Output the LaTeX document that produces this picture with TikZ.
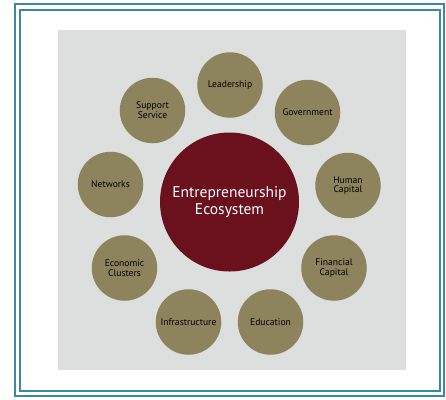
\documentclass[tikz,border=0pt]{standalone}
\usepackage{fontspec}
\setmainfont{PT Sans}
\definecolor{frameblue}{RGB}{58,136,162}
\definecolor{panelgray}{RGB}{220,223,222}
\definecolor{olive}{RGB}{141,132,94}
\definecolor{maroon}{RGB}{106,17,29}
\begin{document}
\begin{tikzpicture}[x=1pt,y=-1pt,
  factor/.style={circle,fill=olive,minimum size=65.5pt,inner sep=0pt,
    align=center,font=\fontsize{9.6}{9.8}\selectfont,text=black},
  hub/.style={circle,fill=maroon,minimum size=139pt,inner sep=0pt,
    align=center,font=\fontsize{15.5}{17}\selectfont,text=white},
  frameline/.style={draw=frameblue,line width=2pt}]
\useasboundingbox (0,0) rectangle (446,399);
% double frame
\draw[frameline] (14.5,4) rectangle (444,396);
\draw[frameline] (20,9.5) rectangle (439.5,391);
% panel
\fill[panelgray] (58,30) rectangle (406,370);
% hub
\node[hub] (eco) at (229.5,202) {Entrepreneurship\\Ecosystem};
% factors
\node[factor] (lead) at (230,85) {Leadership};
\node[factor] (gov) at (307.5,112.5) {Government};
\node[factor] (hum) at (348,185.5) {Human\\Capital};
\node[factor] (fin) at (334,268) {Financial\\Capital};
\node[factor] (edu) at (270.5,322) {Education};
\node[factor] (inf) at (188.5,322) {Infrastructure};
\node[factor] (clu) at (124.5,268) {Economic\\Clusters};
\node[factor] (net) at (110.5,184.5) {Networks};
\node[factor] (sup) at (152.5,110.5) {Support\\Service};
\end{tikzpicture}
\end{document}
